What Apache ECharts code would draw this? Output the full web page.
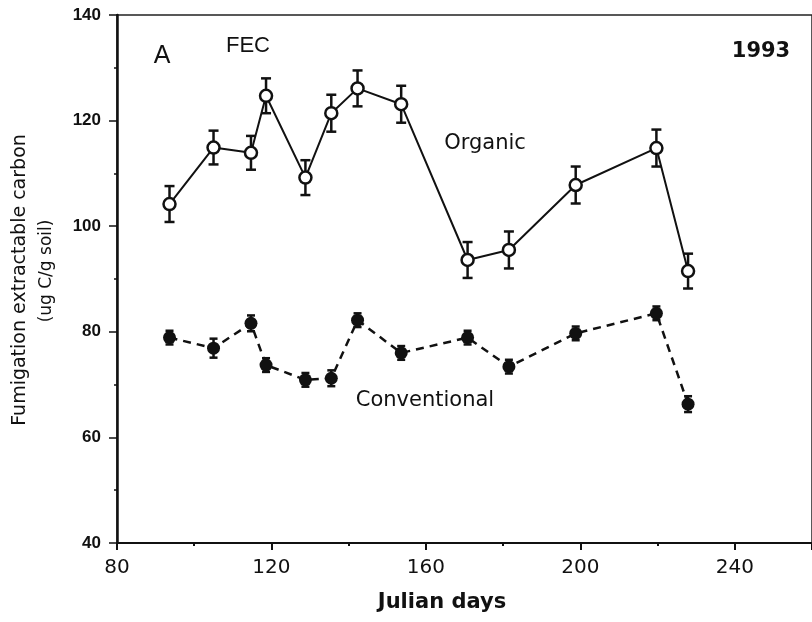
<!DOCTYPE html>
<html>
<head>
<meta charset="utf-8">
<script src="https://cdn.jsdelivr.net/npm/echarts@6/dist/echarts.min.js"></script>
<style>
  html, body { margin: 0; padding: 0; background: #fff; }
  #chart { width: 812px; height: 622px; }
</style>
</head>
<body>
<div id="chart"></div>
<script>
// ---- Data ----
var days = [93.6, 105.0, 114.7, 118.6, 128.8, 135.5, 142.3, 153.6, 170.8, 181.5, 198.8, 219.7, 227.9];
var organicMean = [104.2, 114.9, 113.9, 124.7, 109.2, 121.4, 126.1, 123.1, 93.6, 95.5, 107.8, 114.8, 91.5];
var organicErr  = [3.4, 3.2, 3.2, 3.3, 3.3, 3.5, 3.4, 3.5, 3.4, 3.5, 3.5, 3.5, 3.3];
var conventionalMean = [78.9, 76.9, 81.6, 73.7, 70.9, 71.2, 82.2, 76.0, 78.9, 73.4, 79.7, 83.5, 66.3];
var conventionalErr  = [1.3, 1.8, 1.5, 1.3, 1.3, 1.5, 1.3, 1.3, 1.3, 1.3, 1.3, 1.3, 1.5];
var xTicks = [80, 120, 160, 200, 240];
var yTicks = [40, 60, 80, 100, 120, 140];

function pairs(xs, ys) { return xs.map(function (x, i) { return [x, ys[i]]; }); }
function bars(xs, ys, es) { return xs.map(function (x, i) { return [x, ys[i] - es[i], ys[i] + es[i]]; }); }

function errorBarRender(capHalf, width) {
  return function (params, api) {
    var x = api.value(0);
    var lo = api.coord([x, api.value(1)]);
    var hi = api.coord([x, api.value(2)]);
    var st = { stroke: '#111', lineWidth: width };
    return {
      type: 'group',
      children: [
        { type: 'line', shape: { x1: lo[0], y1: lo[1], x2: hi[0], y2: hi[1] }, style: st },
        { type: 'line', shape: { x1: lo[0] - capHalf, y1: lo[1], x2: lo[0] + capHalf, y2: lo[1] }, style: st },
        { type: 'line', shape: { x1: hi[0] - capHalf, y1: hi[1], x2: hi[0] + capHalf, y2: hi[1] }, style: st }
      ]
    };
  };
}

var chart = echarts.init(document.getElementById('chart'), null, { renderer: 'canvas' });
var txt = '#111';

chart.setOption({
  backgroundColor: '#ffffff',
  animation: false,
  grid: { left: 117, top: 15, right: -3, bottom: 79, show: true, borderColor: '#222', borderWidth: 1.5, backgroundColor: 'transparent' },
  xAxis: {
    type: 'value', min: xTicks[0], max: 260, interval: 40,
    axisLine: { show: true, onZero: false, lineStyle: { color: '#111', width: 2 } },
    axisTick: { show: true, inside: false, length: 7, lineStyle: { color: '#111', width: 2 } },
    minorTick: { show: true, splitNumber: 2, length: 3, lineStyle: { color: '#111', width: 2 } },
    splitLine: { show: false },
    axisLabel: { showMaxLabel: false, margin: 15, color: txt, fontFamily: 'DejaVu Sans', fontSize: 20,
      formatter: function (v) { return xTicks.indexOf(v) >= 0 ? String(v) : ''; } }
  },
  yAxis: {
    type: 'value', min: yTicks[0], max: yTicks[yTicks.length - 1], interval: 20,
    axisLine: { show: true, onZero: false, lineStyle: { color: '#111', width: 2.5 } },
    axisTick: { show: true, inside: false, length: 8, lineStyle: { color: '#111', width: 1.5 } },
    minorTick: { show: true, splitNumber: 2, length: 3, lineStyle: { color: '#111', width: 1.5 } },
    splitLine: { show: false },
    axisLabel: { margin: 16, color: txt, fontFamily: 'Liberation Sans', fontWeight: 'bold', fontSize: 17 }
  },
  series: [
    {
      name: 'Organic err', type: 'custom', z: 1,
      renderItem: errorBarRender(5, 2.5),
      data: bars(days, organicMean, organicErr)
    },
    {
      name: 'Conventional err', type: 'custom', z: 1,
      renderItem: errorBarRender(4, 2.5),
      data: bars(days, conventionalMean, conventionalErr)
    },
    {
      name: 'Organic', type: 'line', z: 3,
      data: pairs(days, organicMean),
      symbol: 'circle', symbolSize: 12, showAllSymbol: true,
      lineStyle: { color: '#111', width: 2 },
      itemStyle: { color: '#fff', borderColor: '#111', borderWidth: 2.5 }
    },
    {
      name: 'Conventional', type: 'line', z: 3,
      data: pairs(days, conventionalMean),
      symbol: 'circle', symbolSize: 13, showAllSymbol: true,
      lineStyle: { color: '#111', width: 2.5, type: [8, 6] },
      itemStyle: { color: '#111', borderColor: '#111', borderWidth: 0 }
    }
  ],
  graphic: [
    { type: 'text', x: 162, y: 56, style: { text: 'A', fill: txt, font: '25px "Liberation Sans"', textAlign: 'center', textVerticalAlign: 'middle' } },
    { type: 'text', x: 248, y: 46, style: { text: 'FEC', fill: txt, font: '22px "Liberation Sans Narrow", "Liberation Sans"', textAlign: 'center', textVerticalAlign: 'middle' } },
    { type: 'text', x: 761, y: 52, style: { text: '1993', fill: txt, font: 'bold 21px "DejaVu Sans"', textAlign: 'center', textVerticalAlign: 'middle' } },
    { type: 'text', x: 485, y: 144, style: { text: 'Organic', fill: txt, font: '21px "DejaVu Sans"', textAlign: 'center', textVerticalAlign: 'middle' } },
    { type: 'text', x: 425, y: 401, style: { text: 'Conventional', fill: txt, font: '21px "DejaVu Sans"', textAlign: 'center', textVerticalAlign: 'middle' } },
    { type: 'text', x: 442, y: 603, style: { text: 'Julian days', fill: txt, font: 'bold 21px "DejaVu Sans"', textAlign: 'center', textVerticalAlign: 'middle' } },
    { type: 'text', x: 20, y: 280, rotation: Math.PI / 2, style: { text: 'Fumigation extractable carbon', fill: txt, font: '19px "DejaVu Sans"', textAlign: 'center', textVerticalAlign: 'middle' } },
    { type: 'text', x: 47, y: 271, rotation: Math.PI / 2, style: { text: '(ug C/g soil)', fill: txt, font: '17px "DejaVu Sans"', textAlign: 'center', textVerticalAlign: 'middle' } }
  ]
});
</script>
</body>
</html>
